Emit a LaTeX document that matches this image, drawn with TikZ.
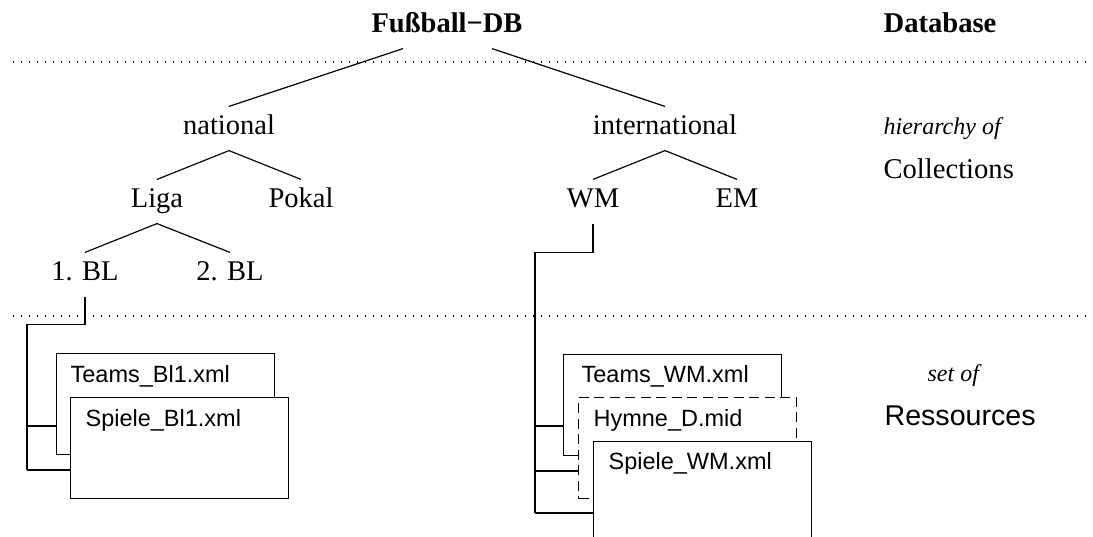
\documentclass[tikz,border=0pt]{standalone}
\usepackage{fontspec}
\setmainfont{Liberation Serif}
\setsansfont{Liberation Sans}
\begin{document}
\begin{tikzpicture}[x=1pt,y=-1pt,
  line width=1.2pt,
  tnode/.style={anchor=base,inner xsep=0pt,inner ysep=9pt,text height=19pt,text depth=6pt,
                font=\fontsize{28.5}{34}\selectfont},
  side/.style={anchor=base west,inner sep=0pt},
  sidebig/.style={side,font=\fontsize{28.6}{34}\selectfont},
  sideit/.style={side,font=\fontsize{24}{28}\selectfont\itshape},
  rule/.style={line width=1.3pt,dash pattern=on 1.2pt off 6.8pt},
  filebox/.style={draw,fill=white,anchor=north west,inner sep=0pt,
                  minimum width=218pt,minimum height=101pt},
  fname/.style={anchor=base west,inner sep=0pt,font=\sffamily\fontsize{23.5}{28}\selectfont},
]
\useasboundingbox (0,0) rectangle (1093,537);
\clip (0,0) rectangle (1093,537);

% level separators
\draw[rule] (13,62) -- (1093,62);
\draw[rule] (13,316) -- (1093,316);

% right-hand legend
\node[sidebig,font=\bfseries\fontsize{28.6}{34}\selectfont] (dblbl) at (883,33) {Database};
\node[sideit] (hierlbl) at (883,135) {hierarchy of};
\node[sidebig] (colllbl) at (883,179) {Collections};
\node[sideit] (setlbl) at (927,382) {set of};
\node[sidebig,font=\sffamily\fontsize{28.6}{34}\selectfont] (reslbl) at (884,425) {Ressources};

% collection tree
\node[tnode,font=\bfseries\fontsize{28.5}{34}\selectfont] (db) at (447,33) {Fußball−DB};
\node[tnode] (nat) at (229,135) {national};
\node[tnode] (intl) at (665,135) {international};
\node[tnode] (liga) at (157,208) {Liga};
\node[tnode] (pokal) at (301,208) {Pokal};
\node[tnode] (wm) at (593,208) {WM};
\node[tnode] (em) at (737,208) {EM};
\node[tnode] (bl1) at (85,281) {1. BL};
\node[tnode] (bl2) at (230,281) {2. BL};

\draw ([xshift=-44pt]db.south) -- (nat.north);
\draw ([xshift=45pt]db.south) -- (intl.north);
\draw (nat.south) -- (liga.north);
\draw (nat.south) -- (pokal.north);
\draw (intl.south) -- (wm.north);
\draw (intl.south) -- (em.north);
\draw (liga.south) -- (bl1.north);
\draw (liga.south) -- (bl2.north);

% resource trunks
\coordinate (bltrunk) at (27,470);
\coordinate (wmtrunk) at (535,513);
\draw (bl1.south) -- ++(0,28) -| (bltrunk);
\draw (wm.south) -- ++(0,29) -| (wmtrunk);

% resources of 1. BL
\node[filebox] (teamsbl) at (56,353) {};
\node[fname] (teamsbltxt) at ([xshift=14pt,yshift=-30pt]teamsbl.north west) {Teams\_Bl1.xml};
\node[filebox] (spielebl) at (70,397) {};
\node[fname] (spielebltxt) at ([xshift=15pt,yshift=-29pt]spielebl.north west) {Spiele\_Bl1.xml};

% resources of WM
\node[filebox] (teamswm) at (563,354) {};
\node[fname] (teamswmtxt) at ([xshift=18pt,yshift=-29pt]teamswm.north west) {Teams\_WM.xml};
\node[filebox,dashed,dash pattern=on 10pt off 5.5pt] (hymne) at (578,397) {};
\node[fname] (hymnetxt) at ([xshift=15pt,yshift=-29pt]hymne.north west) {Hymne\_D.mid};
\node[filebox] (spielewm) at (593,441) {};
\node[fname] (spielewmtxt) at ([xshift=15pt,yshift=-28pt]spielewm.north west) {Spiele\_WM.xml};

% branches from the trunks to the resources
\path ([yshift=-73pt]teamsbl.north west) coordinate (bA)
      ([yshift=-73pt]spielebl.north west) coordinate (bB)
      ([yshift=-72pt]teamswm.north west) coordinate (wA)
      ([yshift=-74pt]hymne.north west) coordinate (wB)
      ([yshift=-72pt]spielewm.north west) coordinate (wC);
\draw (bA) -- (bA -| bltrunk);
\draw (bB) -- (bB -| bltrunk);
\draw (wA) -- (wA -| wmtrunk);
\draw (wB) -- (wB -| wmtrunk);
\draw (wC) -- (wC -| wmtrunk);
\end{tikzpicture}
\end{document}
